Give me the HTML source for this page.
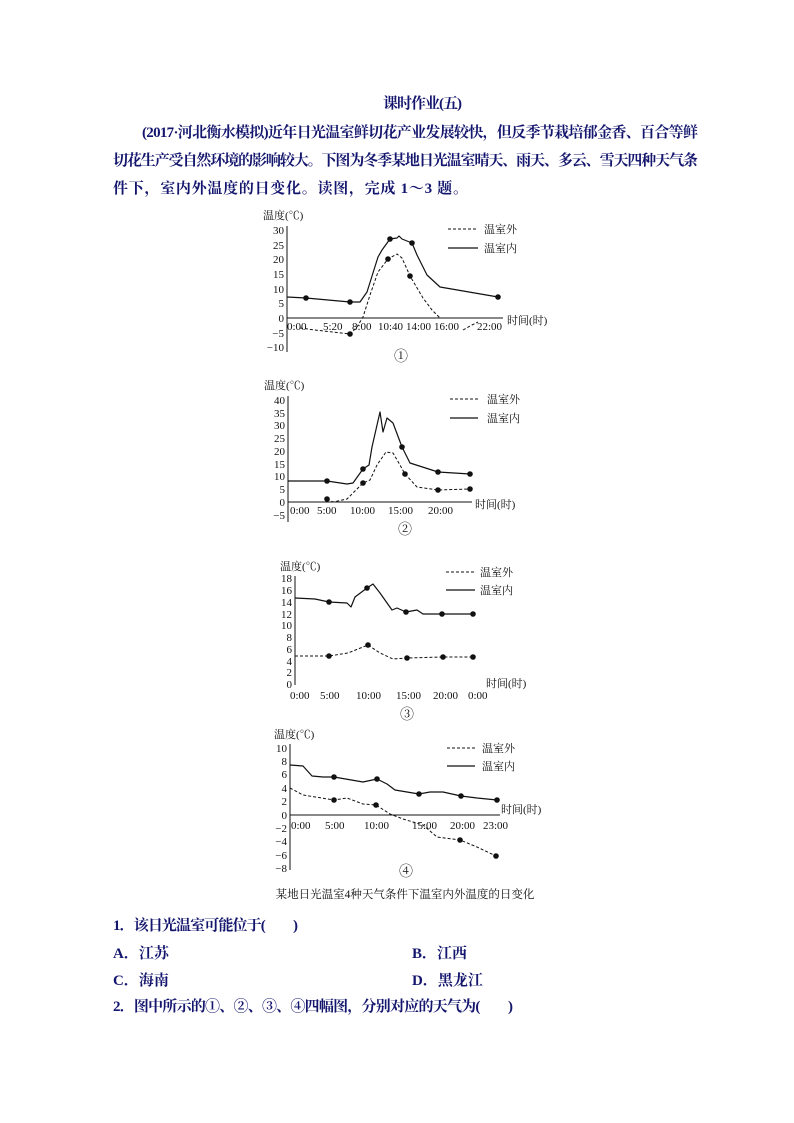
<!DOCTYPE html>
<html><head><meta charset="utf-8"><style>
html,body{margin:0;padding:0;background:#fff}
svg{display:block}
.t{font-family:"Liberation Serif","Noto Serif CJK SC",serif;font-size:15px;font-weight:bold;fill:#14166e}
.c{font-family:"Liberation Serif","Noto Serif CJK SC",serif;font-size:11px;fill:#111}
.s{fill:none;stroke:#111;stroke-width:1.2;stroke-linejoin:round}
.d{fill:none;stroke:#111;stroke-width:1;stroke-dasharray:3,2}
.a{stroke:#111;stroke-width:1}
</style></head><body>
<svg width="794" height="1123" xmlns="http://www.w3.org/2000/svg">
<text class="t" x="383" y="108" textLength="79">课时作业(五)</text>
<text class="t" x="142" y="137" textLength="556">(2017·河北衡水模拟)近年日光温室鲜切花产业发展较快，但反季节栽培郁金香、百合等鲜</text>
<text class="t" x="113" y="165" textLength="585">切花生产受自然环境的影响较大。下图为冬季某地日光温室晴天、雨天、多云、雪天四种天气条</text>
<text class="t" x="113" y="193" textLength="355">件下，室内外温度的日变化。读图，完成 1～3 题。</text>

<!-- Chart 1 -->
<g class="c">
<text x="263" y="219">温度(℃)</text>
<line class="a" x1="287" y1="226" x2="287" y2="352"/>
<line class="a" x1="287" y1="318" x2="503" y2="318"/>
<g text-anchor="end">
<text x="284" y="234">30</text><text x="284" y="249">25</text><text x="284" y="263">20</text><text x="284" y="278">15</text><text x="284" y="293">10</text><text x="284" y="307">5</text><text x="284" y="322">0</text><text x="284" y="337">−5</text><text x="284" y="351">−10</text>
</g>
<text x="287" y="330">0:00</text><text x="323" y="330">5:20</text><text x="352" y="330">8:00</text><text x="378" y="330">10:40</text><text x="406" y="330">14:00</text><text x="434" y="330">16:00</text><text x="477" y="330">22:00</text>
<text x="507" y="324">时间(时)</text>
<line class="d" x1="448" y1="229" x2="478" y2="229"/><text x="484" y="233">温室外</text>
<line class="s" x1="448" y1="248" x2="478" y2="248"/><text x="484" y="252">温室内</text>
<text x="394" y="361" font-size="14">①</text>
</g>
<polyline class="s" points="287,297 306,298 350,302 360,302 367,292 378,257 382,250 390,239 397,238 399,236 402,239 412,243 417,255 427,275 440,287 498,297"/>
<polyline class="d" points="300,328 315,330 350,334 357,327 363,317 370,295 378,272 388,259 397,254 402,258 410,276 423,298 432,310 440,318"/>
<polyline class="d" points="463,330 470,326 478,322"/>
<g fill="#111"><circle cx="306" cy="298" r="2.8"/><circle cx="350" cy="302" r="2.8"/><circle cx="390" cy="239" r="2.8"/><circle cx="412" cy="243" r="2.8"/><circle cx="498" cy="297" r="2.8"/><circle cx="350" cy="334" r="2.8"/><circle cx="388" cy="259" r="2.8"/><circle cx="410" cy="276" r="2.8"/></g>

<!-- Chart 2 -->
<g class="c">
<text x="264" y="389">温度(℃)</text>
<line class="a" x1="288" y1="396" x2="288" y2="522"/>
<line class="a" x1="288" y1="502" x2="472" y2="502"/>
<g text-anchor="end">
<text x="285" y="404">40</text><text x="285" y="417">35</text><text x="285" y="429">30</text><text x="285" y="442">25</text><text x="285" y="455">20</text><text x="285" y="468">15</text><text x="285" y="480">10</text><text x="285" y="493">5</text><text x="285" y="506">0</text><text x="285" y="519">−5</text>
</g>
<text x="290" y="514">0:00</text><text x="317" y="514">5:00</text><text x="350" y="514">10:00</text><text x="388" y="514">15:00</text><text x="428" y="514">20:00</text>
<text x="475" y="508">时间(时)</text>
<line class="d" x1="450" y1="399" x2="478" y2="399"/><text x="487" y="403">温室外</text>
<line class="s" x1="450" y1="418" x2="478" y2="418"/><text x="487" y="422">温室内</text>
<text x="398" y="534" font-size="14">②</text>
</g>
<polyline class="s" points="288,481 327,481 347,484 353,483 363,469 369,465 372,447 380,412 383,432 387,418 393,423 402,447 410,463 438,472 470,474"/>
<polyline class="d" points="327,499 333,502 347,499 363,483 370,480 377,465 386,452 393,453 400,465 405,474 417,487 438,490 470,489"/>
<g fill="#111"><circle cx="327" cy="481" r="2.8"/><circle cx="363" cy="469" r="2.8"/><circle cx="402" cy="447" r="2.8"/><circle cx="438" cy="472" r="2.8"/><circle cx="470" cy="474" r="2.8"/><circle cx="327" cy="499" r="2.8"/><circle cx="363" cy="483" r="2.8"/><circle cx="405" cy="474" r="2.8"/><circle cx="438" cy="490" r="2.8"/><circle cx="470" cy="489" r="2.8"/></g>

<!-- Chart 3 -->
<g class="c">
<text x="280" y="570">温度(℃)</text>
<line class="a" x1="295" y1="576" x2="295" y2="685"/>
<g text-anchor="end">
<text x="292" y="582">18</text><text x="292" y="594">16</text><text x="292" y="606">14</text><text x="292" y="618">12</text><text x="292" y="629">10</text><text x="292" y="641">8</text><text x="292" y="653">6</text><text x="292" y="665">4</text><text x="292" y="676">2</text><text x="292" y="688">0</text>
</g>
<text x="290" y="699">0:00</text><text x="320" y="699">5:00</text><text x="356" y="699">10:00</text><text x="396" y="699">15:00</text><text x="433" y="699">20:00</text><text x="468" y="699">0:00</text>
<text x="486" y="687">时间(时)</text>
<line class="d" x1="446" y1="572" x2="475" y2="572"/><text x="480" y="576">温室外</text>
<line class="s" x1="446" y1="590" x2="475" y2="590"/><text x="480" y="594">温室内</text>
<text x="400" y="719" font-size="14">③</text>
</g>
<polyline class="s" points="295,598 315,599 329,602 347,603 351,607 355,597 367,588 373,584 380,593 392,610 397,608 406,612 417,610 423,614 442,614 473,614"/>
<polyline class="d" points="295,656 329,656 348,653 368,645 380,653 393,659 407,658 443,657 473,657"/>
<g fill="#111"><circle cx="329" cy="602" r="2.8"/><circle cx="367" cy="588" r="2.8"/><circle cx="406" cy="612" r="2.8"/><circle cx="442" cy="614" r="2.8"/><circle cx="473" cy="614" r="2.8"/><circle cx="329" cy="656" r="2.8"/><circle cx="368" cy="645" r="2.8"/><circle cx="407" cy="658" r="2.8"/><circle cx="443" cy="657" r="2.8"/><circle cx="473" cy="657" r="2.8"/></g>

<!-- Chart 4 -->
<g class="c">
<text x="274" y="738">温度(℃)</text>
<line class="a" x1="290" y1="744" x2="290" y2="870"/>
<line class="a" x1="290" y1="815" x2="500" y2="815"/>
<g text-anchor="end">
<text x="287" y="752">10</text><text x="287" y="765">8</text><text x="287" y="778">6</text><text x="287" y="792">4</text><text x="287" y="805">2</text><text x="287" y="819">0</text><text x="287" y="832">−2</text><text x="287" y="845">−4</text><text x="287" y="859">−6</text><text x="287" y="872">−8</text>
</g>
<text x="291" y="829">0:00</text><text x="325" y="829">5:00</text><text x="364" y="829">10:00</text><text x="412" y="829">15:00</text><text x="450" y="829">20:00</text><text x="483" y="829">23:00</text>
<text x="501" y="813">时间(时)</text>
<line class="d" x1="447" y1="748" x2="475" y2="748"/><text x="482" y="752">温室外</text>
<line class="s" x1="447" y1="766" x2="475" y2="766"/><text x="482" y="770">温室内</text>
<text x="399" y="876" font-size="14">④</text>
<text x="405" y="898" text-anchor="middle" font-size="11.5">某地日光温室4种天气条件下温室内外温度的日变化</text>
</g>
<polyline class="s" points="290,765 303,766 312,776 323,777 334,777 363,782 377,779 387,784 395,790 407,792 419,794 430,792 443,792 461,796 477,798 497,800"/>
<polyline class="d" points="290,788 303,795 334,800 347,798 363,804 376,805 390,814 403,819 423,825 437,837 460,840 477,847 496,856"/>
<g fill="#111"><circle cx="334" cy="777" r="2.8"/><circle cx="377" cy="779" r="2.8"/><circle cx="419" cy="794" r="2.8"/><circle cx="461" cy="796" r="2.8"/><circle cx="497" cy="800" r="2.8"/><circle cx="334" cy="800" r="2.8"/><circle cx="376" cy="805" r="2.8"/><circle cx="460" cy="840" r="2.8"/><circle cx="496" cy="856" r="2.8"/></g>

<text class="t" x="113" y="930" textLength="185">1．该日光温室可能位于(　　)</text>
<text class="t" x="113" y="958">A．江苏</text>
<text class="t" x="412" y="958">B．江西</text>
<text class="t" x="113" y="985">C．海南</text>
<text class="t" x="412" y="985">D．黑龙江</text>
<text class="t" x="113" y="1011" textLength="400">2．图中所示的①、②、③、④四幅图，分别对应的天气为(　　)</text>
</svg>
</body></html>
